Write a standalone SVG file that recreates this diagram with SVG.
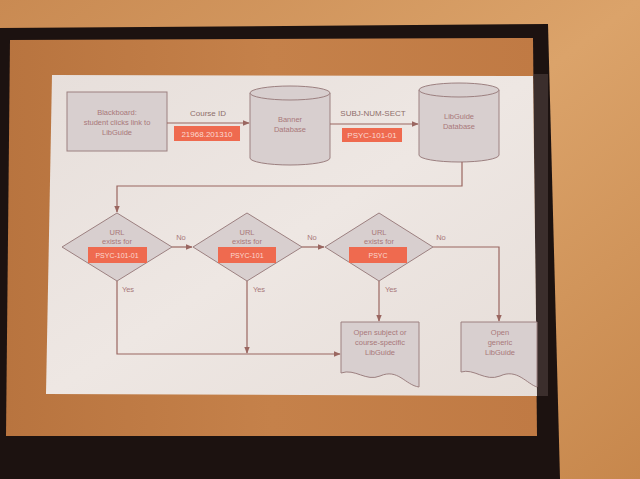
<svg xmlns="http://www.w3.org/2000/svg" width="640" height="479" viewBox="0 0 640 479">
<defs>
<linearGradient id="wall" x1="0" y1="0" x2="1" y2="1">
<stop offset="0" stop-color="#c98a52"/>
<stop offset="0.5" stop-color="#dba36a"/>
<stop offset="1" stop-color="#c7874c"/>
</linearGradient>
<linearGradient id="proj" x1="0" y1="0" x2="1" y2="0">
<stop offset="0" stop-color="#b8743f"/>
<stop offset="0.5" stop-color="#c5814a"/>
<stop offset="1" stop-color="#c07a44"/>
</linearGradient>
<linearGradient id="slide" x1="0" y1="0" x2="1" y2="1">
<stop offset="0" stop-color="#e7dfdb"/>
<stop offset="0.5" stop-color="#eee7e3"/>
<stop offset="1" stop-color="#e6ddd8"/>
</linearGradient>
<marker id="ah" viewBox="0 0 10 10" refX="9" refY="5" markerWidth="6" markerHeight="6" orient="auto">
<path d="M0,1 L10,5 L0,9 z" fill="#9a6660"/>
</marker>
<style>
.node{fill:#d8cfcf;stroke:#9c8080;stroke-width:1}
.t{font-family:"Liberation Sans",Arial,sans-serif;font-size:7.5px;fill:#a8787a;text-anchor:middle}
.lbl{font-family:"Liberation Sans",Arial,sans-serif;font-size:8px;fill:#8e6e6a;text-anchor:middle}
.tag{fill:#ef6a4f}
.tt{font-family:"Liberation Sans",Arial,sans-serif;font-size:7px;fill:#fbd9cf;text-anchor:middle}
.c{fill:none;stroke:#9a6660;stroke-width:1.2}
</style>
</defs>
<rect x="0" y="0" width="640" height="479" fill="url(#wall)"/>
<path d="M0,28 L548,24 L560,479 L0,479 z" fill="#1c1210"/>
<path d="M10,40 L533,38 L537,436 L6,436 z" fill="url(#proj)"/>
<path d="M533,74 L548,74 L548,396 L536,396 z" fill="#5a4a48" opacity="0.5"/>
<path d="M52,75 L533,76 L537,396 L46,394 z" fill="url(#slide)"/>

<g id="blackboard">
<rect class="node" x="67" y="92" width="100" height="59"/>
<text class="t" x="117" y="115">Blackboard:</text>
<text class="t" x="117" y="125">student clicks link to</text>
<text class="t" x="117" y="135">LibGuide</text>
</g>
<g id="banner">
<path class="node" d="M250,93 A40,7 0 0 1 330,93 L330,158 A40,7 0 0 1 250,158 z"/>
<path class="node" d="M250,93 A40,7 0 0 0 330,93" fill="none"/>
<text class="t" x="290" y="122">Banner</text>
<text class="t" x="290" y="132">Database</text>
</g>
<g id="libguide-db">
<path class="node" d="M419,90 A40,7 0 0 1 499,90 L499,155 A40,7 0 0 1 419,155 z"/>
<path class="node" d="M419,90 A40,7 0 0 0 499,90" fill="none"/>
<text class="t" x="459" y="119">LibGuide</text>
<text class="t" x="459" y="129">Database</text>
</g>
<g id="d1">
<path class="node" d="M117,213 L172,247 L117,281 L62,247 z"/>
<text class="t" x="117" y="235">URL</text>
<text class="t" x="117" y="244">exists for</text>
<rect class="tag" x="88" y="247" width="59" height="16"/>
<text class="tt" x="117" y="257.5">PSYC-101-01</text>
</g>
<g id="d2">
<path class="node" d="M247,213 L302,247 L247,281 L193,247 z"/>
<text class="t" x="247" y="235">URL</text>
<text class="t" x="247" y="244">exists for</text>
<rect class="tag" x="218" y="247" width="58" height="16"/>
<text class="tt" x="247" y="257.5">PSYC-101</text>
</g>
<g id="d3">
<path class="node" d="M379,213 L433,247 L379,281 L325,247 z"/>
<text class="t" x="379" y="235">URL</text>
<text class="t" x="379" y="244">exists for</text>
<rect class="tag" x="349" y="247" width="58" height="16"/>
<text class="tt" x="378" y="257.5">PSYC</text>
</g>
<g id="doc-specific">
<path class="node" d="M341,322 L419,322 L419,387 C405,385 398,368 380,376 C366,382 355,368 341,373 z"/>
<text class="t" x="380" y="335">Open subject or</text>
<text class="t" x="380" y="345">course-specific</text>
<text class="t" x="380" y="355">LibGuide</text>
</g>
<g id="doc-generic">
<path class="node" d="M461,322 L537,322 L537,387 C527,384 517,368 500,376 C485,382 474,368 461,372 z"/>
<text class="t" x="500" y="335">Open</text>
<text class="t" x="500" y="345">generic</text>
<text class="t" x="500" y="355">LibGuide</text>
</g>

<g id="connectors">
<line class="c" x1="167" y1="123" x2="249" y2="123" marker-end="url(#ah)"/>
<line class="c" x1="330" y1="124" x2="418" y2="124" marker-end="url(#ah)"/>
<polyline class="c" points="462,162 462,186 117,186 117,212" marker-end="url(#ah)"/>
<line class="c" x1="172" y1="247" x2="192" y2="247" marker-end="url(#ah)"/>
<line class="c" x1="302" y1="247" x2="324" y2="247" marker-end="url(#ah)"/>
<polyline class="c" points="433,247 499,247 499,321" marker-end="url(#ah)"/>
<polyline class="c" points="117,281 117,354 340,354" marker-end="url(#ah)"/>
<line class="c" x1="247" y1="281" x2="247" y2="353" marker-end="url(#ah)"/>
<line class="c" x1="379" y1="281" x2="379" y2="321" marker-end="url(#ah)"/>
<text class="lbl" x="208" y="116">Course ID</text>
<rect class="tag" x="174" y="126" width="66" height="15"/>
<text class="tt" x="207" y="137" style="font-size:8px">21968.201310</text>
<text class="lbl" x="373" y="116">SUBJ-NUM-SECT</text>
<rect class="tag" x="342" y="128" width="60" height="14"/>
<text class="tt" x="372" y="138" style="font-size:8px">PSYC-101-01</text>
<text class="t" x="181" y="240">No</text>
<text class="t" x="312" y="240">No</text>
<text class="t" x="441" y="240">No</text>
<text class="t" x="128" y="292">Yes</text>
<text class="t" x="259" y="292">Yes</text>
<text class="t" x="391" y="292">Yes</text>
</g>
</svg>
